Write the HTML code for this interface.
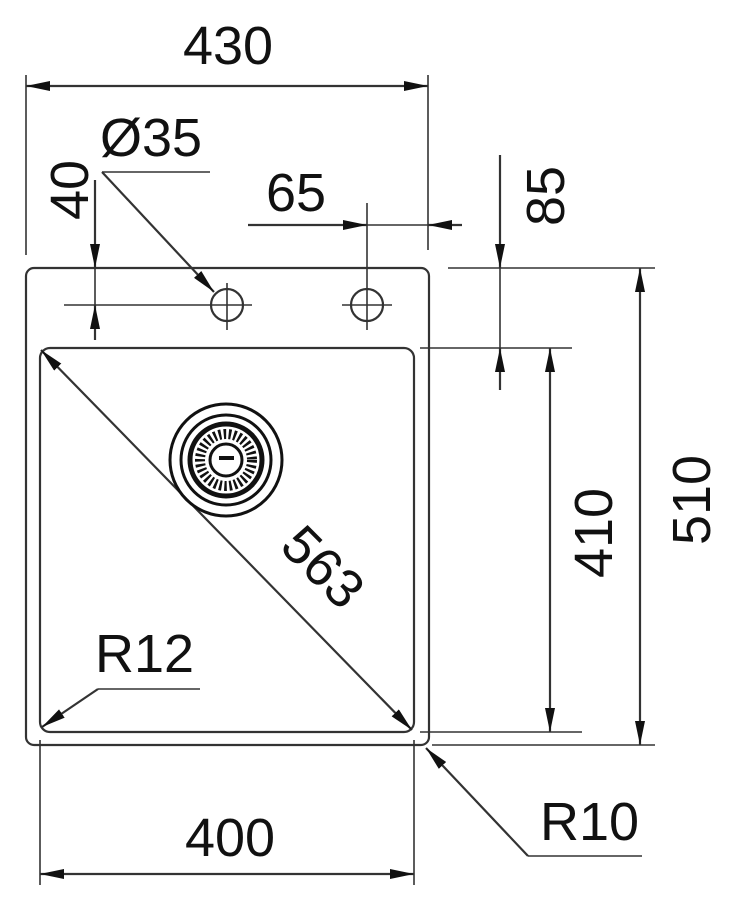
<!DOCTYPE html>
<html><head><style>
html,body{margin:0;padding:0;background:#fff;}
svg{display:block;}
text{font-family:"Liberation Sans",sans-serif;fill:#111;font-size:54px;}
</style></head><body>
<svg width="739" height="910" viewBox="0 0 739 910" xmlns="http://www.w3.org/2000/svg">
<defs>
<marker id="a" viewBox="0 0 24 10" refX="24" refY="5" markerWidth="24" markerHeight="10" markerUnits="userSpaceOnUse" orient="auto-start-reverse">
<path d="M0,0 L24,5 L0,10 Z" fill="#111"/>
</marker>
</defs>
<g fill="none" stroke="#333" stroke-width="2.2">
<!-- outer sink -->
<rect x="26" y="268" width="403" height="477" rx="8"/>
<!-- basin -->
<rect x="40" y="348" width="374" height="384" rx="10"/>
<!-- tap holes -->
<circle cx="227" cy="305" r="16"/>
<circle cx="367" cy="305" r="16"/>
<line x1="64" y1="305" x2="252" y2="305" stroke-width="1.6"/>
<line x1="227" y1="283" x2="227" y2="330" stroke-width="1.6"/>
<line x1="342" y1="305" x2="392" y2="305" stroke-width="1.6"/>
<line x1="367" y1="203" x2="367" y2="330" stroke-width="1.6"/>
<!-- 430 -->
<line x1="26" y1="75" x2="26" y2="255" stroke-width="1.6"/>
<line x1="428" y1="75" x2="428" y2="250" stroke-width="1.6"/>
<line x1="26" y1="86" x2="428" y2="86" marker-start="url(#a)" marker-end="url(#a)"/>
<!-- Ø35 leader -->
<line x1="102" y1="172" x2="210" y2="172" stroke-width="1.6"/>
<line x1="102" y1="172" x2="214" y2="292" marker-end="url(#a)"/>
<!-- 40 -->
<line x1="95" y1="180" x2="95" y2="268" marker-end="url(#a)"/>
<line x1="95" y1="340" x2="95" y2="305" marker-end="url(#a)"/>
<line x1="95" y1="268" x2="95" y2="305" stroke-width="1.6"/>
<!-- 65 -->
<line x1="248" y1="225" x2="367" y2="225" marker-end="url(#a)"/>
<line x1="462" y1="225" x2="428" y2="225" marker-end="url(#a)"/>
<line x1="367" y1="225" x2="428" y2="225" stroke-width="1.6"/>
<!-- 85 -->
<line x1="448" y1="268" x2="655" y2="268" stroke-width="1.6"/>
<line x1="420" y1="348" x2="572" y2="348" stroke-width="1.6"/>
<line x1="500" y1="155" x2="500" y2="268" marker-end="url(#a)"/>
<line x1="500" y1="390" x2="500" y2="348" marker-end="url(#a)"/>
<line x1="500" y1="268" x2="500" y2="348" stroke-width="1.6"/>
<!-- 410 -->
<line x1="420" y1="732" x2="582" y2="732" stroke-width="1.6"/>
<line x1="550" y1="348" x2="550" y2="732" marker-start="url(#a)" marker-end="url(#a)"/>
<!-- 510 -->
<line x1="432" y1="745" x2="655" y2="745" stroke-width="1.6"/>
<line x1="640" y1="268" x2="640" y2="745" marker-start="url(#a)" marker-end="url(#a)"/>
<!-- 400 -->
<line x1="40" y1="740" x2="40" y2="885" stroke-width="1.6"/>
<line x1="414" y1="740" x2="414" y2="885" stroke-width="1.6"/>
<line x1="40" y1="874" x2="414" y2="874" marker-start="url(#a)" marker-end="url(#a)"/>
<!-- 563 -->
<line x1="41" y1="350" x2="412" y2="730" marker-start="url(#a)" marker-end="url(#a)"/>
<!-- R12 -->
<line x1="98" y1="689" x2="200" y2="689" stroke-width="1.6"/>
<line x1="98" y1="689" x2="42" y2="727" marker-end="url(#a)"/>
<!-- R10 -->
<line x1="528" y1="856" x2="642" y2="856" stroke-width="1.6"/>
<line x1="528" y1="856" x2="426" y2="748" marker-end="url(#a)"/>
</g>
<!-- drain -->
<g fill="none" stroke="#111">
<circle cx="226" cy="460" r="56" stroke-width="3"/>
<circle cx="226" cy="460" r="45" stroke-width="3"/>
<circle cx="226" cy="460" r="36" stroke-width="5"/>
<circle cx="226" cy="460" r="26" stroke-width="10" stroke-dasharray="2.5 2.5"/>
<circle cx="226" cy="460" r="16" stroke-width="3"/>
<line x1="219" y1="458" x2="234" y2="458" stroke-width="4"/>
</g>
<text x="228" y="64" text-anchor="middle">430</text>
<text x="100" y="156">Ø35</text>
<text x="296" y="211" text-anchor="middle">65</text>
<text transform="translate(88,190) rotate(-90)" text-anchor="middle">40</text>
<text transform="translate(564,196) rotate(-90)" text-anchor="middle">85</text>
<text transform="translate(612,533) rotate(-90)" text-anchor="middle">410</text>
<text transform="translate(710,500) rotate(-90)" text-anchor="middle">510</text>
<text transform="translate(310,580) rotate(45)" text-anchor="middle">563</text>
<text x="95" y="672">R12</text>
<text x="230" y="856" text-anchor="middle">400</text>
<text x="540" y="840">R10</text>
</svg>
</body></html>
